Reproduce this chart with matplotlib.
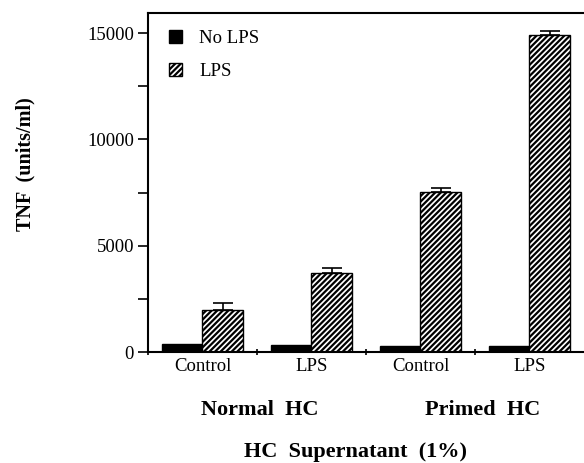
import matplotlib
matplotlib.use("Agg")
import matplotlib.pyplot as plt
import numpy as np

plt.rcParams['font.family'] = ['Liberation Serif', 'DejaVu Serif']
plt.rcParams['hatch.linewidth'] = 1.6

groups = ["Normal  HC", "Primed  HC"]
conditions = ["Control", "LPS", "Control", "LPS"]
no_lps = [360, 340, 290, 270]
lps = [2000, 3720, 7530, 14900]
lps_err = [300, 220, 210, 200]

fig = plt.figure(figsize=(5.84, 4.63), dpi=100)
ax = fig.add_axes([0.2534, 0.2397, 0.7466, 0.7322])

x = np.arange(len(conditions)) + 0.5
w = 0.375
ax.bar(x - w/2, no_lps, width=w, color='black', edgecolor='black', linewidth=1, label='No LPS')
ax.bar(x + w/2, lps, width=w, color='white', edgecolor='black', hatch='//////', linewidth=1, label='LPS')
ax.errorbar(x + w/2, lps, yerr=[np.zeros(len(lps)), lps_err], fmt='none', ecolor='black',
            elinewidth=1.2, capsize=7, capthick=1.2)

ax.set_xlim(0, 4)
ax.set_ylim(0, 15950)
ax.set_yticks([0, 5000, 10000, 15000])
ax.set_yticks([2500, 7500, 12500], minor=True)
ax.set_xticks([0, 1, 2, 3])
ax.set_xticklabels([])
ax.set_xticks(x, minor=True)
ax.set_xticklabels(conditions, minor=True, fontsize=13.5)
ax.tick_params(axis='x', which='minor', length=0, pad=4)
ax.tick_params(axis='x', which='major', length=5, direction='inout', width=1.2)
ax.tick_params(axis='y', which='major', length=7, width=1.2, labelsize=13.5, pad=3)
ax.tick_params(axis='y', which='minor', length=7, width=1.2)
for s in ['left', 'top', 'bottom']:
    ax.spines[s].set_linewidth(1.5)
ax.spines['right'].set_visible(False)

fig.text(25/584, 1 - 164/463, 'TNF  (units/ml)', rotation=90, ha='center', va='center',
         fontsize=14.5, fontweight='bold')

ax.text(0.257, -0.171, groups[0], transform=ax.transAxes, ha='center', va='center',
        fontsize=16, fontweight='bold')
ax.text(0.767, -0.171, groups[1], transform=ax.transAxes, ha='center', va='center',
        fontsize=16, fontweight='bold')
ax.text(0.477, -0.295, 'HC  Supernatant  (1%)', transform=ax.transAxes, ha='center', va='center',
        fontsize=16, fontweight='bold')

leg = ax.legend(loc='upper left', frameon=False, fontsize=13.5, handlelength=0.7, handleheight=0.7,
                bbox_to_anchor=(0.01, 1.0), labelspacing=0.85, handletextpad=0.9)

fig.savefig('out.png', dpi=100)
